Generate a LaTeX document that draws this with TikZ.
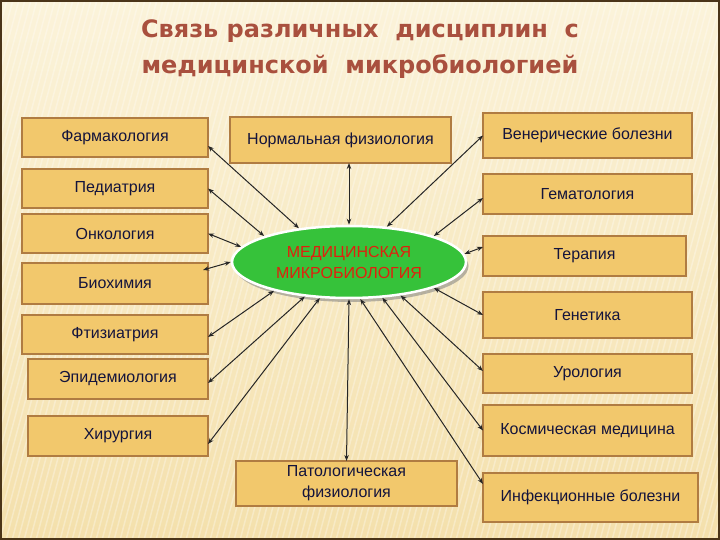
\documentclass[tikz,border=0pt]{standalone}
\usepackage{fontspec}
\setmainfont{Liberation Sans}
\newfontfamily\titlefont{DejaVu Sans}
\usetikzlibrary{arrows.meta,shapes.geometric,shadows}
\definecolor{bgtop}{HTML}{FBF3DA}
\definecolor{bgbot}{HTML}{F4E0AC}
\definecolor{boxfill}{HTML}{F2C86C}
\definecolor{boxline}{HTML}{B07C42}
\definecolor{txt}{HTML}{14143C}
\definecolor{titlec}{HTML}{A9503E}
\definecolor{ellfill}{HTML}{36C23A}
\definecolor{elltext}{HTML}{E0200E}
\definecolor{framec}{HTML}{4A3418}
\begin{document}
\begin{tikzpicture}[x=1pt,y=-1pt,
  disc/.style={draw=boxline, line width=1.6pt, fill=boxfill, inner sep=0pt, outer sep=0pt,
    font=\fontsize{16}{21}\selectfont, text=txt, align=center},
  link/.style={{Stealth[length=6pt,width=4.5pt]}-{Stealth[length=6pt,width=4.5pt]}, line width=1pt, black!85},
  ttl/.style={font=\titlefont\bfseries\fontsize{24}{28}\selectfont, text=titlec, inner sep=0pt},
  stripe/.style={white, opacity=0.3, line width=1.5pt}]
\useasboundingbox (0,0) rectangle (720,540);
\shade[top color=bgtop, bottom color=bgbot] (0,0) rectangle (720,540);
\begin{scope}
\clip (0,0) rectangle (720,540);
\foreach \i in {-150,-144,...,720} \draw[stripe] (\i,540) -- (\i+145,0);
\end{scope}
\draw[framec, line width=2pt] (1,1) rectangle (719,539);

% title
\node[ttl] (t1) at (360,31) {Связь различных\ \ дисциплин\ \ с};
\node[ttl] (t2) at (360,66) {медицинской\ \ микробиологией};

% center
\node[ellipse, draw=white, line width=2.5pt, fill=ellfill, minimum width=234pt, minimum height=72pt,
  inner sep=0pt, align=center, text=elltext, font=\fontsize{16}{21}\selectfont,
  drop shadow={shadow xshift=2.5pt, shadow yshift=-4pt, fill=black!50, opacity=0.55}]
  (mm) at (349,262) {МЕДИЦИНСКАЯ\\МИКРОБИОЛОГИЯ};

% left column
\node[disc, minimum width=186pt, minimum height=39pt] (farm) at (115,137.5) {Фармакология};
\node[disc, minimum width=186pt, minimum height=39pt] (ped)  at (115,188.5) {Педиатрия};
\node[disc, minimum width=186pt, minimum height=39pt] (onk)  at (115,233.5) {Онкология};
\node[disc, minimum width=186pt, minimum height=41pt] (bio)  at (115,283.5) {Биохимия};
\node[disc, minimum width=186pt, minimum height=39pt] (fti)  at (115,334.5) {Фтизиатрия};
\node[disc, minimum width=180pt, minimum height=40pt] (epi)  at (118,379) {Эпидемиология};
\node[disc, minimum width=180pt, minimum height=40pt] (hir)  at (118,436) {Хирургия};

% middle
\node[disc, minimum width=221pt, minimum height=46pt] (norm) at (340.5,140) {Нормальная физиология};
\node[disc, minimum width=221pt, minimum height=45pt] (pat)  at (346.5,483.5) {Патологическая\\физиология};

% right column
\node[disc, minimum width=209pt, minimum height=45pt] (vener) at (587.5,135.5) {Венерические болезни};
\node[disc, minimum width=209pt, minimum height=40pt] (gem)   at (587.5,194) {Гематология};
\node[disc, minimum width=203pt, minimum height=40pt] (ter)   at (584.5,256) {Терапия};
\node[disc, minimum width=209pt, minimum height=46pt] (gen)   at (587.5,315) {Генетика};
\node[disc, minimum width=209pt, minimum height=39pt] (uro)   at (587.5,373.5) {Урология};
\node[disc, minimum width=209pt, minimum height=51pt] (kosm)  at (587.5,430.5) {Космическая медицина};
\node[disc, minimum width=215pt, minimum height=49pt] (inf)   at (590.5,497.5) {Инфекционные болезни};

% connectors
\draw[link] ([yshift=-8.5pt]farm.east) -- (mm.146);
\draw[link] ([xshift=8.5pt]norm.south) -- (mm.90);
\draw[link] (vener.west) -- (mm.43.5);
\draw[link] (ped.east) -- (mm.163);
\draw[link] ([yshift=-4pt]gem.west) -- (mm.17);
\draw[link] (onk.east) -- (mm.172);
\draw[link] ([yshift=9pt]ter.west) -- (mm.4);
\draw[link] ([xshift=-5pt,yshift=13.5pt]bio.east) -- (mm.180);
\draw[link] (gen.west) -- (mm.-17);
\draw[link] ([yshift=-2.5pt]fti.east) -- (mm.201);
\draw[link] ([yshift=-4pt]epi.east) -- (mm.218);
\draw[link] ([yshift=2.5pt]uro.west) -- (mm.-33);
\draw[link] ([yshift=-8pt]hir.east) -- (mm.231);
\draw[link] (kosm.west) -- (mm.-47);
\draw[link] (pat.north) -- (mm.270);
\draw[link] ([yshift=13.5pt]inf.west) -- (mm.-73);
\end{tikzpicture}
\end{document}
